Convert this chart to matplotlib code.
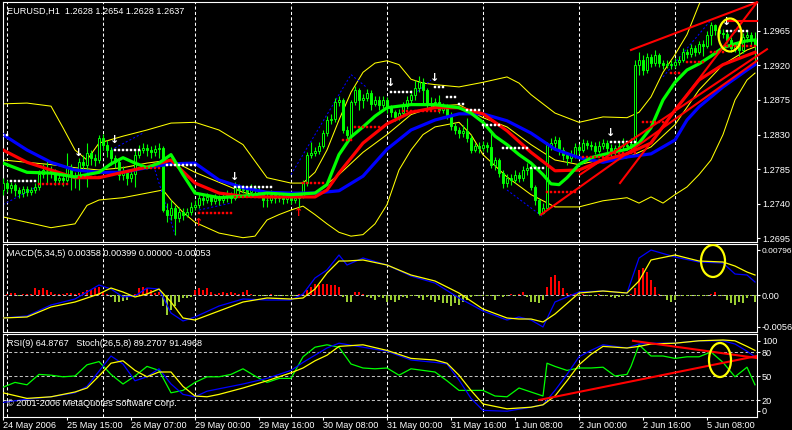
import numpy as np
import matplotlib
matplotlib.use("Agg")
import matplotlib.pyplot as plt
from matplotlib.patches import Ellipse

plt.rcParams['font.family'] = ['Liberation Sans', 'DejaVu Sans']

# EURUSD H1, one bar per hour, 24 May 23:00 .. 5 Jun 20:00
closes = [
    1.2767, 1.2761, 1.2765, 1.2758, 1.2754, 1.2759, 1.2755, 1.2758, 1.2762, 1.2779,
    1.2784, 1.2784, 1.2781, 1.2771, 1.2774, 1.2771, 1.2787, 1.2776, 1.2774, 1.2794,
    1.2791, 1.2806, 1.2800, 1.2797, 1.2826, 1.2817, 1.2810, 1.2800, 1.2794, 1.2778,
    1.2781, 1.2774, 1.2779, 1.2804, 1.2810, 1.2813, 1.2810, 1.2807, 1.2811, 1.2813,
    1.2732, 1.2726, 1.2735, 1.2722, 1.2729, 1.2726, 1.2729, 1.2736, 1.2739, 1.2748,
    1.2745, 1.2749, 1.2744, 1.2748, 1.2745, 1.2750, 1.2752, 1.2748, 1.2763, 1.2758,
    1.2759, 1.2755, 1.2761, 1.2758, 1.2755, 1.2745, 1.2745, 1.2752, 1.2748, 1.2750,
    1.2746, 1.2749, 1.2745, 1.2748, 1.2750, 1.2767, 1.2804, 1.2806, 1.2809, 1.2815,
    1.2832, 1.2849, 1.2850, 1.2872, 1.2875, 1.2836, 1.2830, 1.2872, 1.2888, 1.2875,
    1.2878, 1.2884, 1.2870, 1.2875, 1.2869, 1.2875, 1.2865, 1.2859, 1.2853, 1.2858,
    1.2867, 1.2875, 1.2882, 1.2891, 1.2898, 1.2888, 1.2869, 1.2871, 1.2872, 1.2862,
    1.2865, 1.2856, 1.2841, 1.2836, 1.2832, 1.2835, 1.2826, 1.2810, 1.2815, 1.2813,
    1.2817, 1.2814, 1.2791, 1.2797, 1.2780, 1.2767, 1.2774, 1.2771, 1.2778, 1.2774,
    1.2784, 1.2787, 1.2762, 1.2745, 1.2728, 1.2735, 1.2817, 1.2819, 1.2823, 1.2810,
    1.2804, 1.2800, 1.2804, 1.2814, 1.2810, 1.2819, 1.2817, 1.2815, 1.2809, 1.2815,
    1.2819, 1.2813, 1.2807, 1.2813, 1.2815, 1.2817, 1.2815, 1.2818, 1.2921, 1.2927,
    1.2914, 1.2931, 1.2923, 1.2934, 1.2923, 1.2921, 1.2922, 1.2921, 1.2924, 1.2927,
    1.2937, 1.2935, 1.2943, 1.2937, 1.2948, 1.2945, 1.2960, 1.2973, 1.2966, 1.2962,
    1.2961, 1.2953, 1.2943, 1.2947, 1.2940, 1.2957, 1.2960, 1.2953, 1.2947,
]
highs = [
    1.2774, 1.2771, 1.2768, 1.2767, 1.2762, 1.2763, 1.2763, 1.2762, 1.2767, 1.2784,
    1.2792, 1.2797, 1.2789, 1.2785, 1.2779, 1.2778, 1.2806, 1.2792, 1.2781, 1.2800,
    1.2804, 1.2819, 1.2810, 1.2805, 1.2830, 1.2831, 1.2823, 1.2814, 1.2804, 1.2797,
    1.2789, 1.2784, 1.2784, 1.2810, 1.2817, 1.2819, 1.2818, 1.2815, 1.2817, 1.2819,
    1.2815, 1.2741, 1.2745, 1.2739, 1.2736, 1.2735, 1.2735, 1.2742, 1.2745, 1.2753,
    1.2752, 1.2754, 1.2752, 1.2753, 1.2752, 1.2755, 1.2758, 1.2755, 1.2768, 1.2766,
    1.2765, 1.2763, 1.2766, 1.2765, 1.2762, 1.2758, 1.2754, 1.2758, 1.2755, 1.2755,
    1.2754, 1.2754, 1.2753, 1.2753, 1.2755, 1.2771, 1.2807, 1.2820, 1.2814, 1.2820,
    1.2836, 1.2854, 1.2857, 1.2878, 1.2880, 1.2878, 1.2841, 1.2875, 1.2893, 1.2891,
    1.2883, 1.2889, 1.2888, 1.2880, 1.2880, 1.2880, 1.2879, 1.2869, 1.2862, 1.2863,
    1.2872, 1.2880, 1.2888, 1.2901, 1.2906, 1.2904, 1.2891, 1.2879, 1.2878, 1.2882,
    1.2871, 1.2870, 1.2859, 1.2845, 1.2840, 1.2843, 1.2852, 1.2830, 1.2819, 1.2820,
    1.2822, 1.2820, 1.2832, 1.2801, 1.2800, 1.2784, 1.2779, 1.2779, 1.2784, 1.2781,
    1.2789, 1.2793, 1.2791, 1.2765, 1.2748, 1.2741, 1.2820, 1.2826, 1.2828, 1.2827,
    1.2814, 1.2807, 1.2810, 1.2819, 1.2818, 1.2824, 1.2823, 1.2822, 1.2820, 1.2822,
    1.2824, 1.2823, 1.2818, 1.2817, 1.2822, 1.2826, 1.2822, 1.2826, 1.2927, 1.2937,
    1.2934, 1.2936, 1.2935, 1.2940, 1.2936, 1.2927, 1.2927, 1.2927, 1.2930, 1.2932,
    1.2943, 1.2941, 1.2948, 1.2947, 1.2952, 1.2953, 1.2965, 1.2976, 1.2974, 1.2970,
    1.2967, 1.2965, 1.2957, 1.2950, 1.2948, 1.2962, 1.2965, 1.2963, 1.2963,
]
lows = [
    1.2752, 1.2755, 1.2754, 1.2750, 1.2748, 1.2749, 1.2750, 1.2752, 1.2754, 1.2758,
    1.2774, 1.2767, 1.2774, 1.2765, 1.2766, 1.2763, 1.2768, 1.2758, 1.2761, 1.2758,
    1.2784, 1.2762, 1.2791, 1.2789, 1.2793, 1.2810, 1.2801, 1.2791, 1.2787, 1.2771,
    1.2771, 1.2765, 1.2768, 1.2762, 1.2800, 1.2806, 1.2802, 1.2800, 1.2802, 1.2800,
    1.2729, 1.2716, 1.2719, 1.2700, 1.2716, 1.2719, 1.2723, 1.2726, 1.2732, 1.2735,
    1.2739, 1.2741, 1.2739, 1.2740, 1.2739, 1.2741, 1.2742, 1.2741, 1.2745, 1.2753,
    1.2754, 1.2750, 1.2752, 1.2753, 1.2750, 1.2736, 1.2736, 1.2741, 1.2741, 1.2742,
    1.2740, 1.2741, 1.2740, 1.2741, 1.2735, 1.2748, 1.2763, 1.2800, 1.2802, 1.2805,
    1.2813, 1.2828, 1.2844, 1.2846, 1.2867, 1.2832, 1.2823, 1.2826, 1.2869, 1.2862,
    1.2865, 1.2874, 1.2862, 1.2867, 1.2862, 1.2865, 1.2858, 1.2853, 1.2848, 1.2849,
    1.2854, 1.2863, 1.2870, 1.2875, 1.2885, 1.2871, 1.2862, 1.2862, 1.2865, 1.2858,
    1.2858, 1.2850, 1.2836, 1.2831, 1.2826, 1.2827, 1.2820, 1.2806, 1.2807, 1.2806,
    1.2809, 1.2807, 1.2787, 1.2784, 1.2775, 1.2761, 1.2762, 1.2765, 1.2767, 1.2768,
    1.2770, 1.2778, 1.2758, 1.2739, 1.2726, 1.2727, 1.2732, 1.2810, 1.2810, 1.2804,
    1.2797, 1.2791, 1.2794, 1.2800, 1.2805, 1.2807, 1.2811, 1.2810, 1.2805, 1.2806,
    1.2811, 1.2807, 1.2802, 1.2804, 1.2809, 1.2810, 1.2810, 1.2810, 1.2813, 1.2908,
    1.2908, 1.2910, 1.2918, 1.2919, 1.2918, 1.2915, 1.2917, 1.2915, 1.2917, 1.2921,
    1.2924, 1.2930, 1.2931, 1.2932, 1.2935, 1.2932, 1.2943, 1.2947, 1.2960, 1.2956,
    1.2956, 1.2949, 1.2937, 1.2937, 1.2931, 1.2936, 1.2950, 1.2947, 1.2923,
]
first_open = 1.2758

# moving averages and bands, read at selected bars
blue_ma_at = [0, 6, 12, 18, 24, 30, 36, 42, 48, 54, 60, 66, 72, 78, 84, 90, 96, 102, 108,
              114, 120, 126, 132, 138, 144, 150, 156, 162, 168, 171, 174, 180, 186, 188]
blue_ma = [1.2830, 1.2810, 1.2794, 1.2784, 1.2781, 1.2781, 1.2787, 1.2792, 1.2793, 1.2771,
           1.2761, 1.2755, 1.2754, 1.2754, 1.2757, 1.2776, 1.2811, 1.2836, 1.2849, 1.2857,
           1.2857, 1.2848, 1.2832, 1.2811, 1.2800, 1.2794, 1.2801, 1.2805, 1.2823, 1.2849,
           1.2866, 1.2892, 1.2914, 1.2921]
red_ma_at = [0, 6, 12, 18, 24, 30, 36, 42, 48, 54, 60, 66, 72, 78, 81, 84, 90, 96, 102, 108,
             114, 120, 126, 132, 138, 144, 150, 156, 162, 168, 174, 180, 186, 188]
red_ma = [1.2810, 1.2794, 1.2784, 1.2774, 1.2774, 1.2781, 1.2788, 1.2797, 1.2767, 1.2754,
          1.2750, 1.2749, 1.2749, 1.2749, 1.2758, 1.2780, 1.2819, 1.2844, 1.2859, 1.2865,
          1.2865, 1.2857, 1.2835, 1.2807, 1.2783, 1.2784, 1.2797, 1.2805, 1.2819, 1.2862,
          1.2901, 1.2921, 1.2933, 1.2937]
green_ma_at = [0, 6, 12, 18, 24, 27, 30, 33, 36, 39, 42, 45, 48, 54, 60, 66, 72, 78, 81, 84,
               87, 90, 93, 96, 102, 108, 114, 117, 120, 123, 126, 129, 132, 135, 137, 139,
               141, 144, 147, 150, 156, 159, 162, 165, 168, 171, 174, 177, 180, 183, 186, 188]
green_ma = [1.2793, 1.2781, 1.2780, 1.2775, 1.2781, 1.2792, 1.2800, 1.2793, 1.2787, 1.2793,
            1.2804, 1.2778, 1.2754, 1.2748, 1.2750, 1.2754, 1.2752, 1.2754, 1.2765, 1.2804,
            1.2827, 1.2840, 1.2854, 1.2865, 1.2869, 1.2869, 1.2865, 1.2858, 1.2846, 1.2828,
            1.2817, 1.2804, 1.2793, 1.2778, 1.2766, 1.2765, 1.2774, 1.2791, 1.2800, 1.2804,
            1.2811, 1.2819, 1.2839, 1.2875, 1.2898, 1.2914, 1.2922, 1.2932, 1.2943, 1.2948,
            1.2952, 1.2953]
bb_up_at = [0, 6, 12, 15, 18, 21, 24, 30, 36, 42, 48, 54, 60, 66, 72, 75, 78, 81, 84, 87, 90,
            93, 96, 99, 102, 105, 108, 114, 120, 126, 129, 132, 138, 144, 150, 156, 159, 162,
            165, 168, 171, 174, 177, 180]
bb_up = [1.2870, 1.2871, 1.2867, 1.2839, 1.2810, 1.2797, 1.2819, 1.2828, 1.2836, 1.2845,
         1.2846, 1.2836, 1.2817, 1.2774, 1.2767, 1.2767, 1.2781, 1.2810, 1.2849, 1.2885,
         1.2911, 1.2923, 1.2926, 1.2921, 1.2902, 1.2897, 1.2895, 1.2892, 1.2898, 1.2905,
         1.2897, 1.2882, 1.2858, 1.2846, 1.2853, 1.2852, 1.2859, 1.2879, 1.2911, 1.2934,
         1.2960, 1.2999, 1.3031, 1.3044]
bb_mid_at = [0, 6, 12, 18, 24, 30, 36, 42, 48, 54, 60, 66, 72, 78, 84, 90, 96, 102, 108, 114,
             120, 126, 132, 138, 144, 150, 156, 162, 168, 174, 180, 186, 188]
bb_mid = [1.2797, 1.2794, 1.2791, 1.2787, 1.2784, 1.2787, 1.2793, 1.2797, 1.2781, 1.2768,
          1.2755, 1.2748, 1.2749, 1.2754, 1.2778, 1.2807, 1.2830, 1.2856, 1.2867, 1.2869,
          1.2852, 1.2840, 1.2817, 1.2797, 1.2791, 1.2798, 1.2800, 1.2814, 1.2843, 1.2888,
          1.2921, 1.2940, 1.2944]
bb_low_at = [0, 6, 12, 18, 21, 24, 30, 36, 40, 42, 45, 48, 54, 60, 63, 66, 69, 72, 75, 78, 81,
             84, 87, 90, 93, 96, 99, 102, 105, 108, 114, 117, 120, 126, 132, 138, 144, 150,
             156, 159, 162, 165, 168, 171, 174, 177, 180, 183, 186, 188]
bb_low = [1.2723, 1.2716, 1.2709, 1.2714, 1.2738, 1.2745, 1.2748, 1.2754, 1.2758, 1.2745,
          1.2729, 1.2716, 1.2702, 1.2696, 1.2698, 1.2719, 1.2726, 1.2732, 1.2737, 1.2726,
          1.2714, 1.2703, 1.2698, 1.2700, 1.2714, 1.2739, 1.2784, 1.2810, 1.2830, 1.2840,
          1.2846, 1.2830, 1.2804, 1.2775, 1.2752, 1.2736, 1.2736, 1.2744, 1.2748, 1.2741,
          1.2749, 1.2741, 1.2752, 1.2762, 1.2778, 1.2797, 1.2830, 1.2875, 1.2901, 1.2910]

# trailing stop dots: (first bar, last bar, level)
white_from = [0, 2, 28, 41, 58, 97, 108, 111, 114, 116, 120, 125, 132, 152, 181]
white_to = [1, 8, 34, 48, 67, 102, 110, 113, 115, 119, 124, 131, 135, 158, 186]
white_level = [1.2830, 1.2770, 1.2810, 1.2791, 1.2762, 1.2885, 1.2892, 1.2879, 1.2870,
               1.2862, 1.2843, 1.2813, 1.2787, 1.2820, 1.2965]
white_arrow_bar = [19, 28, 58, 97, 108, 152, 181]
white_arrow_level = [1.2799, 1.2817, 1.2768, 1.2890, 1.2897, 1.2825, 1.2970]
red_from = [9, 19, 34, 49, 58, 75, 85, 88, 100, 136, 145, 152, 160, 167, 171, 177, 181]
red_to = [16, 24, 39, 57, 65, 80, 87, 94, 109, 143, 151, 158, 166, 169, 175, 180, 188]
red_level = [1.2766, 1.2775, 1.2787, 1.2728, 1.2749, 1.2767, 1.2823, 1.2840, 1.2861,
             1.2755, 1.2801, 1.2806, 1.2846, 1.2910, 1.2924, 1.2937, 1.2945]
red_arrow_bar = [49, 74]
red_arrow_level = [1.2722, 1.2735]

# thin blue dotted swing lines
swing_bar = [0, 8, np.nan, 27, 35, np.nan, 38, 43, np.nan, 49, 57, np.nan, 72, 87, 91,
             np.nan, 102, 107, np.nan, 126, 135, np.nan, 165, 177]
swing_price = [1.2739, 1.2761, np.nan, 1.2810, 1.2832, np.nan, 1.2784, 1.2700, np.nan,
               1.2732, 1.2741, np.nan, 1.2778, 1.2908, 1.2891, np.nan, 1.2879, 1.2901,
               np.nan, 1.2758, 1.2723, np.nan, 1.2905, 1.2979]

# hand drawn trend lines (bar, price) pairs
trend_main = [((157, 1.2940), (188.5, 1.3002)),
              ((134.5, 1.2726), (188.5, 1.2926)),
              ((144.25, 1.2778), (191, 1.2941)),
              ((154.25, 1.2767), (188.5, 1.3002)),
              ((181.25, 1.2978), (188.5, 1.2978))]
trend_rsi = [((134, 20), (188.5, 75)),
             ((157.5, 94), (188.5, 72.5))]

# MACD(5,34,5)
macd_at = [0, 6, 12, 18, 24, 27, 30, 33, 36, 39, 42, 45, 48, 54, 60, 66, 72, 75, 78, 81, 84,
           86, 90, 96, 102, 108, 114, 120, 126, 129, 132, 135, 138, 144, 150, 156, 159, 162,
           168, 174, 180, 183, 186, 188]
macd_main = [-0.00407, -0.00372, -0.00177, -0.00071, 0.00177, 0.00106, -0.00035, -0.00018,
             0.00124, 0.00106, -0.00319, -0.00460, -0.00389, -0.00195, -0.00071, -0.00089,
             -0.00089, 0.00018, 0.00301, 0.00443, 0.00708, 0.00531, 0.00655, 0.00531,
             0.00336, 0.00212, -0.00053, -0.00283, -0.00443, -0.00389, -0.00443, -0.00566,
             -0.00124, 0.00053, 0.00071, 0.00035, 0.00655, 0.00796, 0.00673, 0.00584,
             0.00566, 0.00372, 0.00354, 0.00230]
macd_signal = [-0.00407, -0.00389, -0.00212, -0.00124, 0.00018, 0.00124, 0.00053, -0.00035,
               0.00018, 0.00106, -0.00124, -0.00407, -0.00443, -0.00283, -0.00124, -0.00053,
               -0.00071, -0.00053, 0.00106, 0.00389, 0.00602, 0.00602, 0.00620, 0.00531,
               0.00354, 0.00248, 0.00035, -0.00248, -0.00407, -0.00425, -0.00425, -0.00478,
               -0.00336, 0.00035, 0.00071, 0.00035, 0.00248, 0.00620, 0.00708, 0.00602,
               0.00584, 0.00513, 0.00407, 0.00354]
# histogram, one value per bar, in units of 0.0001
osma = [
    1, 1, 3, 3, -1, 1, 2, 1, 12, 9, 12, 9, 5, 1, 2, 1, 3, 3, 1, 3,
    5, 9, 9, 12, 15, 6, 2, -3, -12, -12, -10, -8, -3, 2, 12, 15, 12, 9, 3, 6,
    -20, -35, -27, -20, -12, -6, -6, -3, 9, 12, 9, 12, 6, 2, 3, 5, 3, 5, 3, 1,
    6, 9, 1, -1, -2, -2, -1, 1, -1, -1, -2, -1, -1, -1, 1, 1, 9, 15, 20, 18,
    20, 20, 18, 18, 15, -3, -12, -12, 5, 5, 1, -3, -6, -9, -3, -6, -12, -9, -12, -9,
    -3, -6, -1, -1, -6, -9, -3, -9, -12, -9, -15, -15, -20, -15, -18, -12, -9, -3, -1, -1,
    -2, -1, -1, -9, -1, -3, -1, 1, -2, 2, 6, -3, -12, -12, -15, -9, 15, 32, 35, 24,
    12, 3, 1, 2, -1, 1, -1, -2, -1, 1, -1, -2, -3, -6, -3, -1, -1, 1, 12, 44,
    47, 41, 27, 15, 2, -1, -9, -12, -9, -1, -1, -2, -1, -1, -2, -1, -1, 1, 5, -1,
    -1, -9, -15, -18, -12, -15, -6, -1, -12,
]

# RSI(9) and Stochastic(26,5,8)
rsi_at = [0, 3, 6, 9, 12, 15, 18, 21, 24, 27, 30, 33, 36, 39, 42, 45, 48, 51, 54, 57, 60, 63,
          66, 69, 72, 75, 78, 81, 84, 87, 90, 93, 96, 99, 102, 105, 108, 111, 114, 117, 120,
          123, 126, 129, 132, 135, 136, 138, 141, 144, 147, 150, 153, 156, 157, 159, 162,
          165, 168, 171, 174, 177, 180, 183, 186, 188]
rsi = [36, 42, 39, 52, 51, 49, 50, 64, 68, 52, 40, 50, 62, 57, 29, 32, 42, 49, 49, 52, 59, 50,
       42, 47, 47, 74, 86, 89, 86, 65, 60, 59, 60, 51, 59, 57, 55, 44, 32, 32, 32, 25, 24,
       35, 30, 25, 66, 62, 57, 60, 60, 61, 50, 52, 62, 89, 75, 75, 72, 74, 74, 80, 67, 49,
       61, 39]
stoch_at = [0, 6, 12, 18, 21, 24, 27, 30, 33, 36, 39, 42, 45, 48, 51, 54, 60, 66, 72, 75, 78,
            81, 84, 90, 96, 102, 108, 111, 114, 117, 120, 126, 132, 135, 138, 141, 144, 147,
            150, 156, 159, 162, 168, 174, 180, 183, 186, 188]
stoch_main = [17, 21, 24, 29, 37, 56, 75, 65, 44, 49, 59, 40, 27, 24, 31, 34, 40, 47, 57, 67,
              76, 85, 91, 86, 81, 70, 67, 65, 45, 22, 7, 6, 11, 14, 32, 52, 74, 82, 89, 85,
              90, 91, 91, 94, 94, 90, 81, 74]
stoch_signal = [29, 22, 24, 30, 35, 50, 66, 69, 57, 49, 55, 55, 37, 25, 24, 27, 35, 44, 54,
                60, 69, 76, 87, 89, 82, 72, 70, 66, 51, 32, 15, 9, 11, 14, 25, 44, 64, 77,
                87, 85, 87, 90, 91, 94, 95, 94, 87, 82]

grid_bars = [1, 25, 48, 72, 96, 120, 144, 168]
time_bars = [0, 16, 32, 48, 64, 80, 96, 112, 128, 144, 160, 176]
time_labels = ["24 May 2006", "25 May 15:00", "26 May 07:00", "29 May 00:00",
               "29 May 16:00", "30 May 08:00", "31 May 00:00", "31 May 16:00",
               "1 Jun 08:00", "2 Jun 00:00", "2 Jun 16:00", "5 Jun 08:00"]
price_ticks = [1.2965, 1.2920, 1.2875, 1.2830, 1.2785, 1.2740, 1.2695]

W, H = 792, 430
LIME = '#00ff00'
FS = 6.6


def panel(top, bottom):
    return fig.add_axes([2.5 / W, 1 - bottom / H, 754.5 / W, (bottom - top) / H])


fig = plt.figure(figsize=(W / 100, H / 100), dpi=100, facecolor='black')
ax = panel(2, 242)
am = panel(244, 332)
ar = panel(334, 417)

for a in (ax, am, ar):
    a.set_facecolor('black')
    a.set_xlim(-0.125, 188.5)
    for s in a.spines.values():
        s.set_color('white')
        s.set_linewidth(0.8)
    a.yaxis.tick_right()
    a.tick_params(axis='y', colors='white', labelsize=FS, length=2, width=0.8, pad=1.5)
    a.tick_params(axis='x', bottom=False, labelbottom=False)
    for g in grid_bars:
        a.axvline(g, color='white', lw=0.75, ls=(0, (3, 2.2)), zorder=1)

# ---- main price panel
bars = np.arange(len(closes))
opens = [first_open] + closes[:-1]
ax.set_ylim(1.26904, 1.30024)
ax.set_yticks(price_ticks)
ax.set_yticklabels([f"{p:.4f}" for p in price_ticks])

ax.plot(bb_up_at, bb_up, color='yellow', lw=0.75, zorder=2)
ax.plot(bb_low_at, bb_low, color='yellow', lw=0.75, zorder=2)
ax.plot(bb_mid_at, bb_mid, color='yellow', lw=0.75, zorder=2)
ax.plot(swing_bar, swing_price, color='#0000ff', lw=0.75, ls=(0, (2, 2)), zorder=2)

ax.vlines(bars, lows, highs, color=LIME, lw=0.8, zorder=3)
for i in bars:
    o, c = opens[i], closes[i]
    bottom, h = min(o, c), max(abs(c - o), 0.00003)
    ax.bar(i, h, bottom=bottom, width=0.5, color='black' if c >= o else LIME,
           edgecolor=LIME, linewidth=0.7, zorder=4)

ax.plot(blue_ma_at, blue_ma, color='#0000ff', lw=2.3, zorder=5)
ax.plot(red_ma_at, red_ma, color='#ff0000', lw=2.3, zorder=5)
ax.plot(green_ma_at, green_ma, color=LIME, lw=2.3, zorder=6)

for a0, a1, lvl in zip(white_from, white_to, white_level):
    xs = np.arange(a0, a1 + 1)
    ax.plot(xs, [lvl] * len(xs), ls='none', marker='s', ms=2.0, color='white',
            mec='white', mew=0.3, zorder=7)
for a0, a1, lvl in zip(red_from, red_to, red_level):
    xs = np.arange(a0, a1 + 1)
    ax.plot(xs, [lvl] * len(xs), ls='none', marker='s', ms=2.0, color='#ff0000',
            mec='#ff0000', mew=0.3, zorder=7)
for b, lvl in zip(white_arrow_bar, white_arrow_level):
    ax.text(b, lvl, '↓', color='white', fontsize=8, ha='center', va='bottom',
            family='DejaVu Sans', fontweight='bold', zorder=8)
for b, lvl in zip(red_arrow_bar, red_arrow_level):
    ax.text(b, lvl, '↑', color='#ff0000', fontsize=8, ha='center', va='top',
            family='DejaVu Sans', fontweight='bold', zorder=8)

for (x0, y0), (x1, y1) in trend_main:
    ax.plot([x0, x1], [y0, y1], color='#ff0000', lw=1.5, zorder=8, clip_on=False)
ax.add_patch(Ellipse((181.75, 1.29595), 5.75, 0.00429, fill=False, ec='yellow', lw=1.6,
                     zorder=9))

# ---- MACD panel
am.set_ylim(-0.00655, 0.00903)
am.set_yticks([0.00796, 0.0, -0.0056])
am.set_yticklabels(['0.00796', '0.00', '-0.0056'])
am.get_yticklabels()[0].set_fontsize(6.0)
am.axhline(0, color='#c0c0c0', lw=0.75, ls=(0, (3, 2.2)), zorder=1)
hist = np.array(osma) * 1e-4
am.vlines(bars, 0, hist, colors=['#ff0000' if v > 0 else '#9acd32' for v in hist],
          lw=1.1, zorder=2, antialiased=False)
am.plot(macd_at, macd_main, color='#0000ff', lw=0.9, zorder=3)
am.plot(macd_at, macd_signal, color='yellow', lw=0.9, zorder=4)
am.add_patch(Ellipse((177.5, 0.00602), 6, 0.00566, fill=False, ec='yellow', lw=1.6,
                     zorder=5))

# ---- RSI / Stochastic panel
ar.set_ylim(-1.25, 102.5)
ar.set_yticks([93.75, 80, 50, 20, 6.25])
ar.set_yticklabels(['100', '80', '50', '20', '0'])
for lvl in (80, 50, 20):
    ar.axhline(lvl, color='#c0c0c0', lw=0.75, ls=(0, (3, 2.2)), zorder=1)
ar.plot(rsi_at, rsi, color=LIME, lw=0.9, zorder=3)
ar.plot(stoch_at, stoch_main, color='#0000ff', lw=0.9, zorder=4)
ar.plot(stoch_at, stoch_signal, color='yellow', lw=0.9, zorder=5)
for (x0, y0), (x1, y1) in trend_rsi:
    ar.plot([x0, x1], [y0, y1], color='#ff0000', lw=1.5, zorder=6)
ar.add_patch(Ellipse((179.25, 70), 5.5, 42.5, fill=False, ec='yellow', lw=1.6, zorder=7))
ar.set_xticks(time_bars)
ar.set_xticklabels(time_labels, ha='left')
ar.tick_params(axis='x', bottom=True, labelbottom=True, colors='white', labelsize=FS,
               length=2, width=0.8, pad=1)

# ---- captions
def caption(x, y, s):
    fig.text(x / W, 1 - y / H, s, color='white', fontsize=FS, va='center', ha='left')


caption(7, 11, "EURUSD,H1  1.2628 1.2654 1.2628 1.2637")
caption(7, 254, "MACD(5,34,5) 0.00358 0.00399 0.00000 -0.00053")
caption(7, 343, "RSI(9) 64.8767   Stoch(26,5,8) 89.2707 91.4968")
caption(7, 404, "© 2001-2006 MetaQuotes Software Corp.")

fig.savefig('out.png', dpi=100, facecolor='black')
